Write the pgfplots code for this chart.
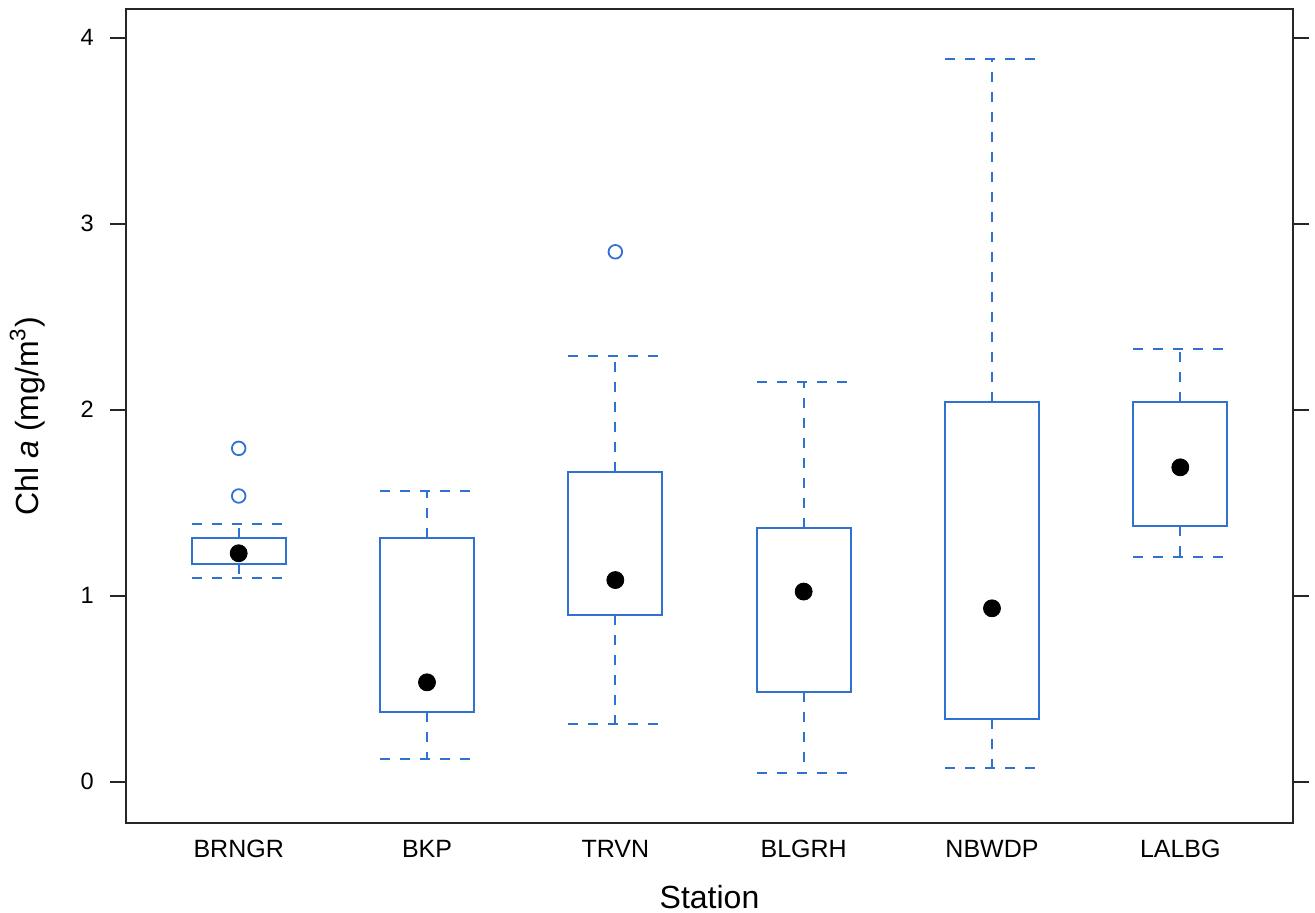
\documentclass[border=0pt]{standalone}
\usepackage{fontspec}
\setmainfont{Liberation Sans}
\usepackage{pgfplots}
\pgfplotsset{compat=1.18}
\usepgfplotslibrary{statistics}
\definecolor{bwblue}{HTML}{2F72D2}
\begin{document}
\begin{tikzpicture}
\useasboundingbox (-62.85pt,-44.85pt) rectangle (594.65pt,411.65pt);
\begin{axis}[
 at={(0,0)}, anchor=south west,
 scale only axis, width=583.8pt, height=407pt,
 xmin=0.4, xmax=6.6, ymin=-0.224, ymax=4.153,
 xtick={1,2,3,4,5,6}, xticklabels={BRNGR,BKP,TRVN,BLGRH,NBWDP,LALBG},
 ytick={0,1,2,3,4},
 tick align=outside, major tick length=8pt,
 xtick style={draw=none},
 yticklabel pos=left,
 axis line style={line width=1pt, black!85},
 ytick style={line width=1pt, black!85},
 /pgf/number format/assume math mode=true,
 yticklabel style={font=\fontsize{11.8pt}{13pt}\selectfont, xshift=-4.5pt},
 xticklabel style={font=\fontsize{12.5pt}{14pt}\selectfont, yshift=3pt},
 xlabel={Station}, ylabel={Chl \textit{a} (mg/m\textsuperscript{3})},
 label style={font=\fontsize{16pt}{19pt}\selectfont},
 xlabel style={at={(axis description cs:0.5,-0.1045)}, anchor=base},
 ylabel style={at={(axis description cs:-0.0751,0.5)}, anchor=base},
 boxplot/draw direction=y,
 boxplot/box extend=0.5, boxplot/whisker extend=0.5,
 boxplot/draw/median/.code={},
 boxplot/every box/.style={draw=bwblue, line width=1pt, solid},
 boxplot/every whisker/.style={draw=bwblue, line width=1pt, dash pattern=on 5pt off 5pt},
 clip=false,
]
\addplot[bwblue, mark=none, boxplot prepared={draw position=1, lower whisker=1.095, lower quartile=1.169, median=1.228, upper quartile=1.312, upper whisker=1.385}] coordinates {};
\addplot[bwblue, mark=none, boxplot prepared={draw position=2, lower whisker=0.124, lower quartile=0.373, median=0.534, upper quartile=1.312, upper whisker=1.565}] coordinates {};
\addplot[bwblue, mark=none, boxplot prepared={draw position=3, lower whisker=0.309, lower quartile=0.896, median=1.084, upper quartile=1.663, upper whisker=2.287}] coordinates {};
\addplot[bwblue, mark=none, boxplot prepared={draw position=4, lower whisker=0.045, lower quartile=0.484, median=1.022, upper quartile=1.366, upper whisker=2.149}] coordinates {};
\addplot[bwblue, mark=none, boxplot prepared={draw position=5, lower whisker=0.075, lower quartile=0.339, median=0.932, upper quartile=2.040, upper whisker=3.884}] coordinates {};
\addplot[bwblue, mark=none, boxplot prepared={draw position=6, lower whisker=1.206, lower quartile=1.376, median=1.690, upper quartile=2.043, upper whisker=2.326}] coordinates {};
% medians
\addplot[only marks, mark=*, mark size=4.25pt, black] coordinates {(1,1.228) (2,0.534) (3,1.084) (4,1.022) (5,0.932) (6,1.690)};
% outliers
\addplot[only marks, mark=o, mark size=3.4pt, bwblue, line width=0.9pt] coordinates {(1,1.792) (1,1.536) (3,2.849)};
\end{axis}
\end{tikzpicture}
\end{document}
